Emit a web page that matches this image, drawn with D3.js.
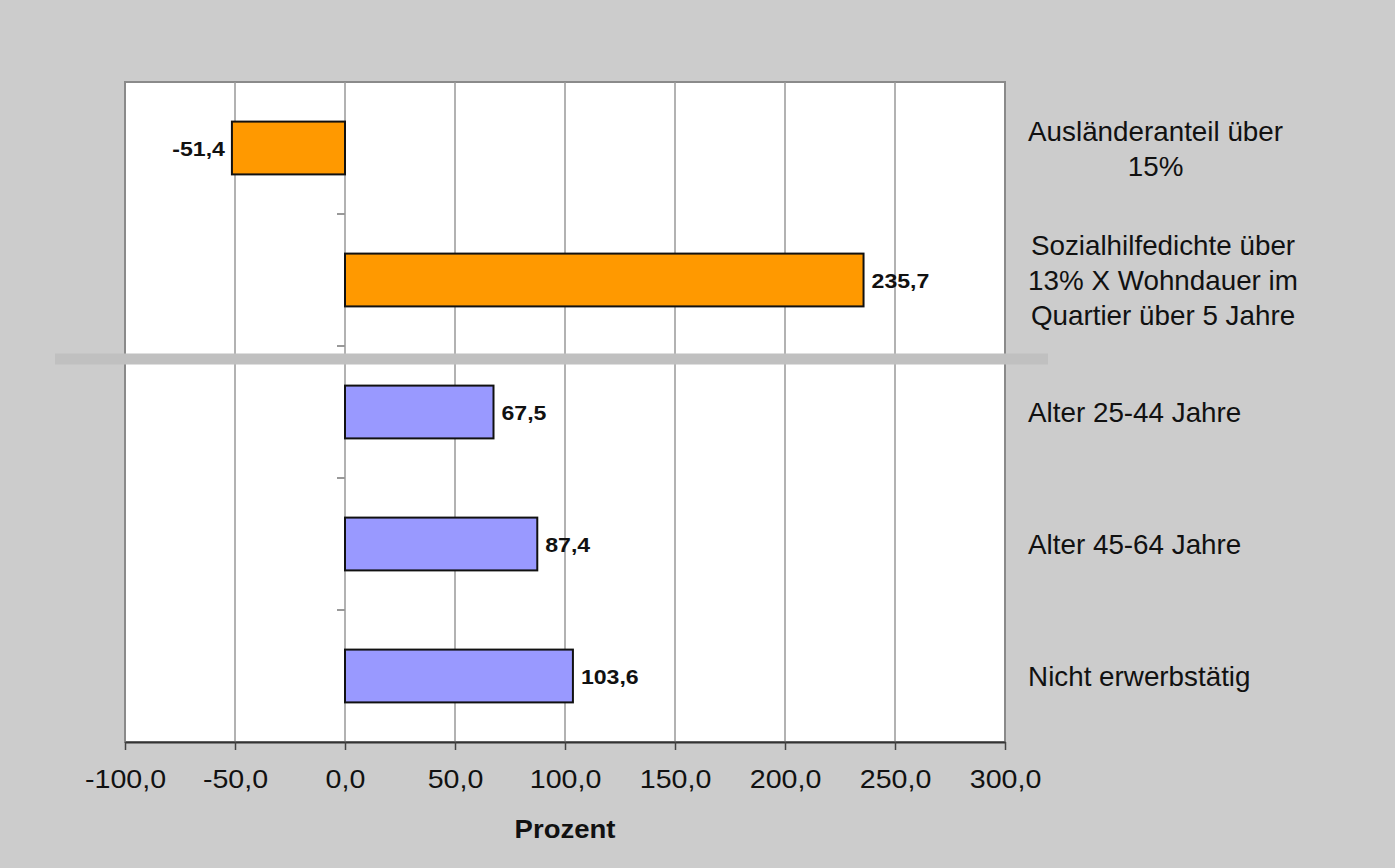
<!DOCTYPE html>
<html>
<head>
<meta charset="utf-8">
<script src="https://cdn.jsdelivr.net/npm/d3@7"></script>
<style>
  html, body { margin: 0; padding: 0; background: #cccccc; }
  svg { display: block; }
  text { font-family: "Liberation Sans", Arial, sans-serif; }
</style>
</head>
<body>
<svg id="chart" width="1395" height="868"></svg>
<script>
// ---- data ----
const categories = [
  ["Ausländeranteil über", "15%"],
  ["Sozialhilfedichte über", "13% X Wohndauer im", "Quartier über 5 Jahre"],
  ["Alter 25-44 Jahre"],
  ["Alter 45-64 Jahre"],
  ["Nicht erwerbstätig"]
];
const values = [-51.4, 235.7, 67.5, 87.4, 103.6];
const groups = ["A", "A", "B", "B", "B"];
const xTicks = [-100, -50, 0, 50, 100, 150, 200, 250, 300];
const xDomain = [-100, 300];
const xTitle = "Prozent";

// ---- setup ----
const W = 1395, H = 868;
const margin = { left: 125, right: W - 1005, top: 82, bottom: H - 742 };
const svg = d3.select("#chart");
svg.append("rect").attr("width", W).attr("height", H).attr("fill", "#cccccc");

const loc = d3.formatLocale({ decimal: ",", thousands: ".", grouping: [3], currency: ["", "€"], minus: "-" });
const fmt = loc.format(".1f");
const SX = 1.1; // horizontal text stretch of the original

const x = d3.scaleLinear().domain(xDomain).range([margin.left, W - margin.right]);
const keys = categories.map((c, i) => i);
const y = d3.scaleBand().domain(keys).range([margin.top, H - margin.bottom])
  .paddingInner(0.6).paddingOuter(0.3);
const step = y.step();

const color = d3.scaleOrdinal().domain(["A", "B"]).range(["#ff9900", "#9999ff"]);

// plot area
svg.append("rect")
  .attr("x", x.range()[0]).attr("y", margin.top)
  .attr("width", x.range()[1] - x.range()[0]).attr("height", H - margin.bottom - margin.top)
  .attr("fill", "#ffffff").attr("stroke", "#8a8a8a").attr("stroke-width", 2);

// gridlines
svg.append("g").selectAll("line").data(xTicks.slice(1, -1)).join("line")
  .attr("x1", d => x(d)).attr("x2", d => x(d))
  .attr("y1", margin.top).attr("y2", H - margin.bottom)
  .attr("stroke", "#999999").attr("stroke-width", 1.5);

// category axis at zero: small ticks at row boundaries
const bounds = d3.range(categories.length + 1).map(i => margin.top + i * step);
svg.append("g").selectAll("line").data(bounds.slice(1, -1)).join("line")
  .attr("x1", x(0) - 8).attr("x2", x(0))
  .attr("y1", d => d).attr("y2", d => d)
  .attr("stroke", "#999999").attr("stroke-width", 2);

// x axis
const xAxis = d3.axisBottom(x).tickValues(xTicks).tickFormat(fmt).tickSizeInner(8).tickSizeOuter(0).tickPadding(20);
const gx = svg.append("g").attr("transform", `translate(0,${H - margin.bottom})`).call(xAxis);
gx.select(".domain").attr("stroke", "#333333").attr("stroke-width", 2);
gx.selectAll(".tick line").attr("stroke", "#444444").attr("stroke-width", 1.5);
gx.selectAll(".tick text").attr("font-size", 26).attr("fill", "#111111")
  .attr("font-family", "'Liberation Sans', Arial, sans-serif")
  .attr("transform", `scale(${SX},1)`);

// axis title
const tx = (x.range()[0] + x.range()[1]) / 2;
svg.append("text")
  .attr("transform", `translate(${tx},838) scale(${SX},1)`)
  .attr("text-anchor", "middle").attr("font-size", 25).attr("font-weight", "bold")
  .attr("fill", "#111111").text(xTitle);

// bars
svg.append("g").selectAll("rect").data(values).join("rect")
  .attr("x", d => x(Math.min(0, d)))
  .attr("width", d => Math.abs(x(d) - x(0)))
  .attr("y", (d, i) => y(i))
  .attr("height", y.bandwidth())
  .attr("fill", (d, i) => color(groups[i]))
  .attr("stroke", "#111111").attr("stroke-width", 2);

// value labels
svg.append("g").selectAll("text").data(values).join("text")
  .attr("transform", (d, i) => `translate(${d < 0 ? x(d) - 7 : x(d) + 8},${y(i) + y.bandwidth() / 2 + 8}) scale(${SX},1)`)
  .attr("text-anchor", d => d < 0 ? "end" : "start")
  .attr("font-size", 21).attr("font-weight", "bold").attr("fill", "#111111")
  .text(d => fmt(d));

// separator between groups
const sepIdx = groups.findIndex(g => g === "B");
svg.append("line")
  .attr("x1", 55).attr("x2", 1048)
  .attr("y1", margin.top + sepIdx * step + 13).attr("y2", margin.top + sepIdx * step + 13)
  .attr("stroke", "#c0c0c0").attr("stroke-width", 11);

// category labels on the right
const labelLeft = 1028, lh = 35, SXL = 1.03;
const lg = svg.append("g");
categories.forEach((lines, i) => {
  const cy = y(i) + y.bandwidth() / 2;
  const g = lg.append("g");
  const ts = lines.map((t, j) => g.append("text")
    .attr("font-size", 27).attr("fill", "#111111")
    .attr("text-anchor", "middle").text(t));
  const wmax = d3.max(ts, t => t.node().getComputedTextLength()) * SXL;
  ts.forEach((t, j) => t.attr("transform",
    `translate(${labelLeft + wmax / 2},${cy + (j - (lines.length - 1) / 2) * lh + 10}) scale(${SXL},1)`));
});
</script>
</body>
</html>
